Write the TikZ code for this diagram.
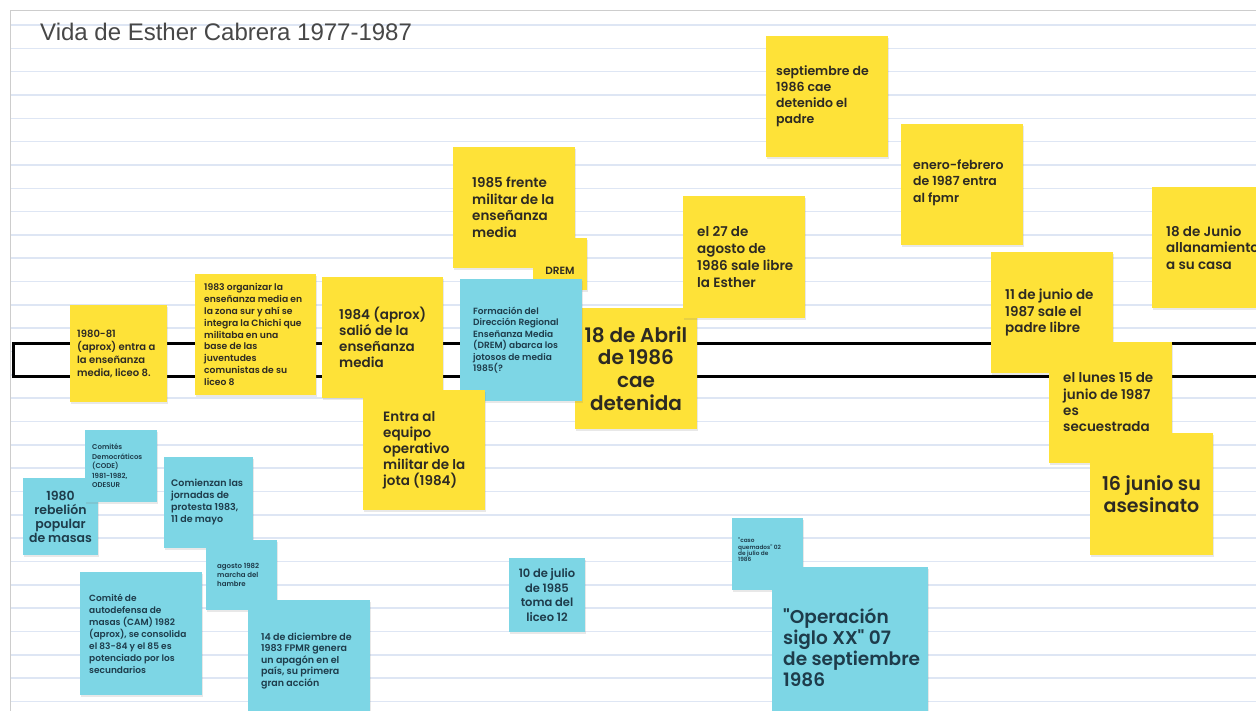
\documentclass[tikz,border=0pt]{standalone}
\usepackage{fontspec}
\setmainfont{Liberation Sans}
\newfontfamily\nf{Poppins SemiBold}
\newfontfamily\titlefont{Liberation Sans}
\usetikzlibrary{shadows}
\definecolor{noteY}{RGB}{254,226,56}
\definecolor{noteC}{RGB}{125,214,229}
\definecolor{ytext}{RGB}{45,42,35}
\definecolor{ctext}{RGB}{30,60,75}
\definecolor{gridc}{RGB}{222,230,244}
\definecolor{framec}{RGB}{205,205,205}
\tikzset{
  box/.style={rectangle, inner sep=0pt, outer sep=0pt, draw=none,
    drop shadow={opacity=0.18, shadow xshift=0.6pt, shadow yshift=-2pt}},
  ybox/.style={box, fill=noteY},
  cbox/.style={box, fill=noteC},
  ytxt/.style={text=ytext, inner sep=0pt, align=left, anchor=west},
  ctxt/.style={text=ctext, inner sep=0pt, align=left, anchor=west},
  yctr/.style={text=ytext, inner sep=0pt, align=center, anchor=center},
  cctr/.style={text=ctext, inner sep=0pt, align=center, anchor=center},
  fs/.style 2 args={font=\nf\fontsize{#1}{#2}\selectfont},
  ruled/.style={draw=gridc, line width=1.6pt},
}
\newcommand\stick[6]{%
  \pgfmathsetmacro\stw{(#5)-(#3)}%
  \pgfmathsetmacro\sth{(#6)-(#4)}%
  \node[#2, minimum width=\stw pt, minimum height=\sth pt] (#1) at ({((#3)+(#5))/2},{((#4)+(#6))/2}) {};}
\begin{document}
\begin{tikzpicture}[x=1pt,y=-1pt]
\clip (0,0) rectangle (1256,711);
\fill[white] (0,0) rectangle (1256,711);
% ruled canvas
\foreach \k in {0,...,29} {
  \draw[ruled] (10,{25+23.33*\k}) -- (1256,{25+23.33*\k});
}
\draw[framec, line width=1pt] (10,711) -- (10,11) -- (1256,11);
% title
\node[anchor=base west, inner sep=0pt, text=black!72, font=\titlefont\fontsize{24}{28}\selectfont] (title) at (40,41) {Vida de Esther Cabrera 1977-1987};
% timeline bar
\draw[line width=3pt, fill=white] (13,344) rectangle (1270,376);

% ---------- cyan notes (lower left) ----------
\stick{c1}{cbox}{23}{478}{98}{555}
\node[cctr, fs={12.5}{14}] (c1t) at (c1.center) {1980\\rebelión\\popular\\de masas};
\stick{c2}{cbox}{85}{430}{157}{502}
\node[ctxt, fs={7}{9.5}] (c2t) at ([xshift=7pt]c2.west) {Comités\\Democráticos\\(CODE)\\1981-1982,\\ODESUR};
\stick{c3}{cbox}{164}{457}{253}{548}
\node[ctxt, fs={9.5}{12}] (c3t) at ([xshift=7pt]c3.west) {Comienzan las\\jornadas de\\protesta 1983,\\11 de mayo};
\stick{c4}{cbox}{206}{540}{277}{610}
\node[ctxt, fs={7}{9.2}] (c4t) at ([xshift=11pt]c4.west) {agosto 1982\\marcha del\\hambre};
\stick{c5}{cbox}{80}{572}{202}{695}
\node[ctxt, fs={9}{12}] (c5t) at ([xshift=9pt]c5.west) {Comité de\\autodefensa de\\masas (CAM) 1982\\(aprox), se consolida\\el 83-84 y el 85 es\\potenciado por los\\secundarios};
\stick{c6}{cbox}{248}{600}{370}{722}
\node[ctxt, fs={9.5}{11.5}] (c6t) at ([xshift=13pt]c6.west) {14 de diciembre de\\1983 FPMR genera\\un apagón en el\\país, su primera\\gran acción};
\stick{c7}{cbox}{509}{558}{585}{632}
\node[cctr, fs={11.5}{14.5}] (c7t) at (c7.center) {10 de julio\\de 1985\\toma del\\liceo 12};
\stick{c8}{cbox}{732}{518}{803}{590}
\node[ctxt, fs={5.8}{6.4}] (c8t) at ([xshift=6pt,yshift=4pt]c8.west) {"caso\\quemados" 02\\de julio de\\1986};
\stick{c9}{cbox}{772}{567}{928}{723}
\node[ctxt, fs={18.5}{21}] (c9t) at ([xshift=11pt,yshift=-3pt]c9.west) {"Operación\\siglo XX" 07\\de septiembre\\1986};

% ---------- yellow notes ----------
\stick{y1}{ybox}{70}{305}{167}{402}
\node[ytxt, fs={10}{13}] (y1t) at ([xshift=7pt]y1.west) {1980-81\\(aprox) entra a\\la enseñanza\\media, liceo 8.};
\stick{y2}{ybox}{195}{274}{316}{395}
\node[ytxt, fs={9.2}{11.8}] (y2t) at ([xshift=9pt]y2.west) {1983 organizar la\\enseñanza media en\\la zona sur y ahí se\\integra la Chichi que\\militaba en una\\base de las\\juventudes\\comunistas de su\\liceo 8};
\stick{y3}{ybox}{322}{277}{443}{398}
\node[ytxt, fs={13.5}{16}] (y3t) at ([xshift=17pt]y3.west) {1984 (aprox)\\salió de la\\enseñanza\\media};
\stick{y5}{ybox}{453}{147}{575}{268}
\node[ytxt, fs={13.5}{16.5}] (y5t) at ([xshift=19pt]y5.west) {1985 frente\\militar de la\\enseñanza\\media};
\stick{y6}{ybox}{533}{238}{587}{290}
\node[text=ytext, inner sep=0pt, fs={10.5}{12}, anchor=base] (y6t) at ([yshift=15pt]y6.south) {DREM};
\stick{y7}{ybox}{575}{308}{697}{429}
\node[yctr, fs={20}{22.7}] (y7t) at (y7.center) {18 de Abril\\de 1986\\cae\\detenida};
\stick{c10}{cbox}{460}{279}{582}{401}
\node[ctxt, fs={9}{11.5}] (c10t) at ([xshift=13pt]c10.west) {Formación del\\Dirección Regional\\Enseñanza Media\\(DREM) abarca los\\jotosos de media\\1985(?};
\stick{y4}{ybox}{363}{390}{485}{510}
\node[ytxt, fs={13.5}{16}] (y4t) at ([xshift=20pt]y4.west) {Entra al\\equipo\\operativo\\militar de la\\jota (1984)};
\stick{y8}{ybox}{683}{196}{805}{318}
\node[ytxt, fs={13.5}{16.8}] (y8t) at ([xshift=14pt]y8.west) {el 27 de\\agosto de\\1986 sale libre\\la Esther};
\stick{y9}{ybox}{766}{36}{888}{157}
\node[ytxt, fs={12.5}{16}] (y9t) at ([xshift=10pt]y9.west) {septiembre de\\1986 cae\\detenido el\\padre};
\stick{y10}{ybox}{901}{124}{1023}{245}
\node[ytxt, fs={12.5}{16.5}] (y10t) at ([xshift=12pt,yshift=2pt]y10.west) {enero-febrero\\de 1987 entra\\al fpmr};
\stick{y11}{ybox}{1152}{187}{1275}{308}
\node[ytxt, fs={13.5}{16.7}] (y11t) at ([xshift=14pt]y11.west) {18 de Junio\\allanamiento\\a su casa};
\stick{y12}{ybox}{991}{252}{1113}{373}
\node[ytxt, fs={13.5}{16.7}] (y12t) at ([xshift=14pt]y12.west) {11 de junio de\\1987 sale el\\padre libre};
\stick{y13}{ybox}{1049}{342}{1172}{463}
\node[ytxt, fs={13.5}{16.3}] (y13t) at ([xshift=14pt]y13.west) {el lunes 15 de\\junio de 1987\\es\\secuestrada};
\stick{y14}{ybox}{1090}{433}{1213}{555}
\node[yctr, fs={19}{21.7}] (y14t) at (y14.center) {16 junio su\\asesinato};
\end{tikzpicture}
\end{document}
